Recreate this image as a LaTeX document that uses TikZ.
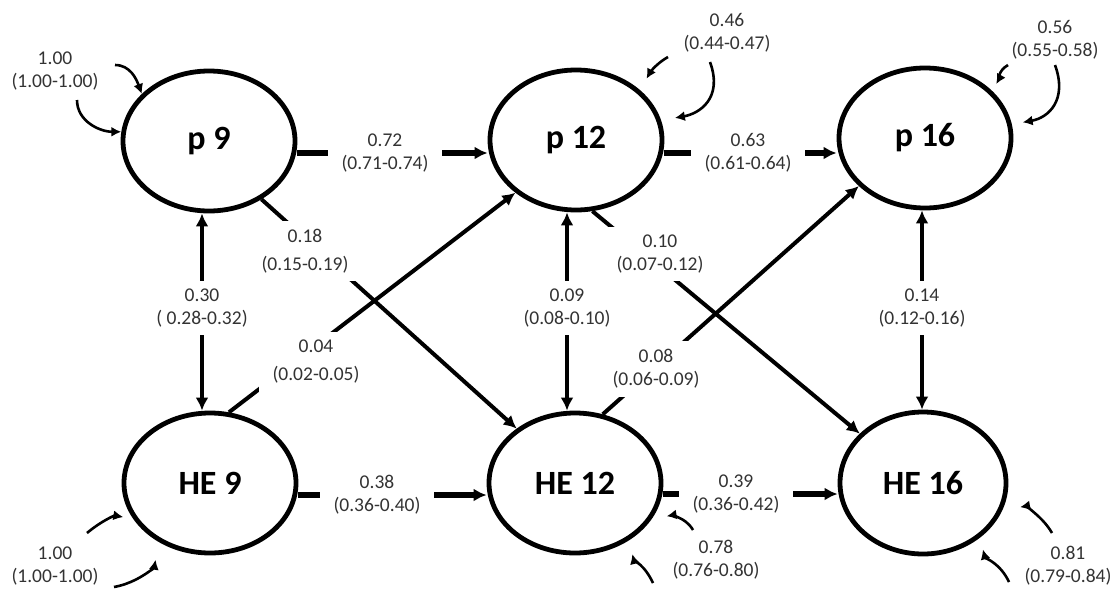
\documentclass[tikz,border=0pt]{standalone}
\usepackage{fontspec}
\setmainfont{Carlito}
\usetikzlibrary{arrows.meta,shapes.geometric,backgrounds}
\begin{document}
\begin{tikzpicture}[x=1pt,y=1pt,line join=round,>={Latex[length=13pt,width=13pt]},
	bien/.style={draw,ellipse,line width=4.8pt,minimum width=172pt,minimum height=140pt,font=\fontsize{34}{36}\selectfont\bfseries},
	nhan/.style={fill=white,inner xsep=14pt,inner ysep=8pt,align=center,text=black!80,font=\fontsize{19.5}{23}\selectfont},
	tso/.style={align=center,text=black!80,font=\fontsize{19.5}{23}\selectfont},
	ngang/.style={->,line width=5.5pt},
	doc/.style={<->,line width=4pt},
	cheo/.style={->,line width=4pt},
	vong/.style={->,line width=2.6pt,>={Latex[length=10pt,width=10pt]}}]
	%Khung hình.
	\useasboundingbox (0,0) rectangle (1115,-589);
	%Các biến.
	\node[bien] (p9) at (209,-141) {p 9};
	\node[bien] (p12) at (576,-140) {p 12};
	\node[bien] (p16) at (925,-138) {p 16};
	\node[bien] (he9) at (210,-483) {HE 9};
	\node[bien] (he12) at (575,-483) {HE 12};
	\node[bien,minimum width=166pt,minimum height=142pt] (he16) at (923,-483) {HE 16};
	%Nhãn hệ số.
	\node[nhan] (l72) at (385,-153) {0.72\\(0.71-0.74)};
	\node[nhan] (l63) at (748,-153) {0.63\\(0.61-0.64)};
	\node[nhan] (l38) at (377,-495) {0.38\\(0.36-0.40)};
	\node[nhan] (l39) at (736,-494) {0.39\\(0.36-0.42)};
	\node[nhan] (l30) at (202,-308) {0.30\\( 0.28-0.32)};
	\node[nhan] (l09) at (567,-308) {0.09\\(0.08-0.10)};
	\node[nhan] (l14) at (922,-308) {0.14\\(0.12-0.16)};
	\node[nhan] (l18) at (305,-251) {0.18\\[5pt](0.15-0.19)};
	\node[nhan] (l04) at (316,-362) {0.04\\[5pt](0.02-0.05)};
	\node[nhan] (l10) at (660,-254) {0.10\\(0.07-0.12)};
	\node[nhan] (l08) at (656,-369) {0.08\\(0.06-0.09)};
	%Nhãn phương sai.
	\node[tso] (v9) at (55,-71) {1.00\\(1.00-1.00)};
	\node[tso] (v12) at (727,-33) {0.46\\(0.44-0.47)};
	\node[tso] (v16) at (1055,-40) {0.56\\(0.55-0.58)};
	\node[tso] (vhe9) at (55,-566) {1.00\\(1.00-1.00)};
	\node[tso] (vhe12) at (716,-560) {0.78\\(0.76-0.80)};
	\node[tso] (vhe16) at (1068,-566) {0.81\\(0.79-0.84)};
	%Đầu tự do của vòng.
	\coordinate (a9) at (115,-65);
	\coordinate (b9) at (77,-100);
	\coordinate (a12) at (668,-57);
	\coordinate (b12) at (710,-62);
	\coordinate (a16) at (1008,-65);
	\coordinate (b16) at (1055,-65);
	\coordinate (ahe9) at (87,-533);
	\coordinate (bhe9) at (114,-587);
	\coordinate (ahe12) at (693,-530);
	\coordinate (bhe12) at (653,-583);
	\coordinate (ahe16) at (1052,-533);
	\coordinate (bhe16) at (1009,-582);
	\begin{scope}[on background layer]
		%Mũi tên ngang.
		\draw[ngang] (p9.east |- l72) -- (p12.west |- l72);
		\draw[ngang] (p12.east |- l63) -- (p16.west |- l63);
		\draw[ngang] (he9.east |- l38) -- (he12.west |- l38);
		\draw[ngang] (he12.east |- l39) -- (he16.west |- l39);
		%Mũi tên dọc.
		\draw[doc] (p9.south -| l30) -- (he9.north -| l30);
		\draw[doc] (p12.south -| l09) -- (he12.north -| l09);
		\draw[doc] (p16.south -| l14) -- (he16.north -| l14);
		%Mũi tên chéo.
		\draw[cheo] (p9.-48) -- (he12.137);
		\draw[cheo] (he9.75) -- (p12.-139);
		\draw[cheo] (p12.-77) -- (he16.142);
		\draw[cheo] (he12.68) -- (p16.-144);
	\end{scope}
	%Vòng phương sai.
	\draw[vong] (a9) to[out=0,in=110] (p9.145);
	\draw[vong] (b9) to[out=-90,in=180] (p9.174);
	\draw[vong,shorten >=13pt] (a12) to[out=-150,in=60] (p12.38);
	\draw[vong,shorten >=14pt] (b12) to[out=-70,in=10,looseness=1.3] (p12.13);
	\draw[vong,shorten >=8pt] (a16) to[out=-150,in=60] (p16.35);
	\draw[vong,shorten >=11pt] (b16) to[out=-70,in=10,looseness=1.3] (p16.9);
	\draw[vong,shorten >=10pt] (ahe9) to[out=40,in=170] (he9.-155);
	\draw[vong,shorten >=18pt] (bhe9) to[out=10,in=-100] (he9.-131);
	\draw[vong,shorten >=15pt] (ahe12) to[out=120,in=10] (he12.-25);
	\draw[vong,shorten >=14pt] (bhe12) to[out=115,in=-75] (he12.-47);
	\draw[vong,shorten >=18pt] (ahe16) to[out=120,in=10] (he16.-19);
	\draw[vong,shorten >=12pt] (bhe16) to[out=115,in=-75] (he16.-44);
\end{tikzpicture}
\end{document}
